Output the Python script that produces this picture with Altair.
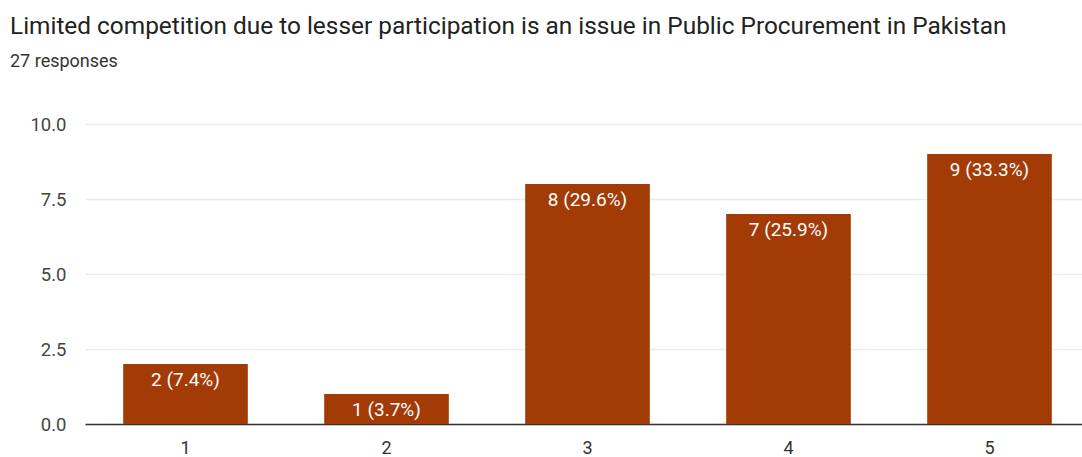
import altair as alt
import pandas as pd

# Responses per rating
ratings = ["1", "2", "3", "4", "5"]
counts = [2, 1, 8, 7, 9]
total = 27
labels = [f"{c} ({c / total * 100:.1f}%)" for c in counts]

df = pd.DataFrame({"rating": ratings, "count": counts, "label": labels})

BAR = "#a33b07"
FONT = "Roboto"

x = alt.X(
    "rating:N",
    sort=ratings,
    scale=alt.Scale(range=[0, 1005], paddingInner=0.38, paddingOuter=0.19),
    axis=alt.Axis(
        title=None, labelAngle=0, labelFontSize=18, labelColor="#333333",
        labelFont=FONT, ticks=False, labelPadding=15,
        domainColor="#333333", domainWidth=1.5, grid=False,
    ),
)
y = alt.Y(
    "count:Q",
    scale=alt.Scale(domain=[0, 10]),
    axis=alt.Axis(
        title=None, values=[0, 2.5, 5, 7.5, 10], format=".1f",
        labelFontSize=18.5, labelColor="#444444", labelFont=FONT,
        ticks=False, domain=False, labelPadding=19,
        gridColor="#ebebeb", gridWidth=1.5,
    ),
)

bars = alt.Chart(df).mark_bar(color=BAR).encode(x=x, y=y)

text = alt.Chart(df).mark_text(
    color="white", font=FONT, fontSize=19, baseline="top", dy=7
).encode(x=x, y=y, text="label:N")

chart = (
    (bars + text)
    .properties(
        width=997,
        height=300,
        autosize=alt.AutoSizeParams(type="none"),
        padding={"left": 85, "top": 124, "right": 0, "bottom": 33},
        title=alt.TitleParams(
            text="Limited competition due to lesser participation is an issue in Public Procurement in Pakistan",
            subtitle="27 responses",
            anchor="start",
            frame="group",
            dx=-75,
            offset=43,
            font=FONT,
            fontSize=24.4,
            fontWeight="normal",
            color="#222222",
            subtitleFont=FONT,
            subtitleFontSize=18,
            subtitleColor="#333333",
            subtitlePadding=14,
        ),
    )
    .configure_view(stroke=None)
)

chart.save("out.html", embed_options={"renderer": "svg", "actions": False})
